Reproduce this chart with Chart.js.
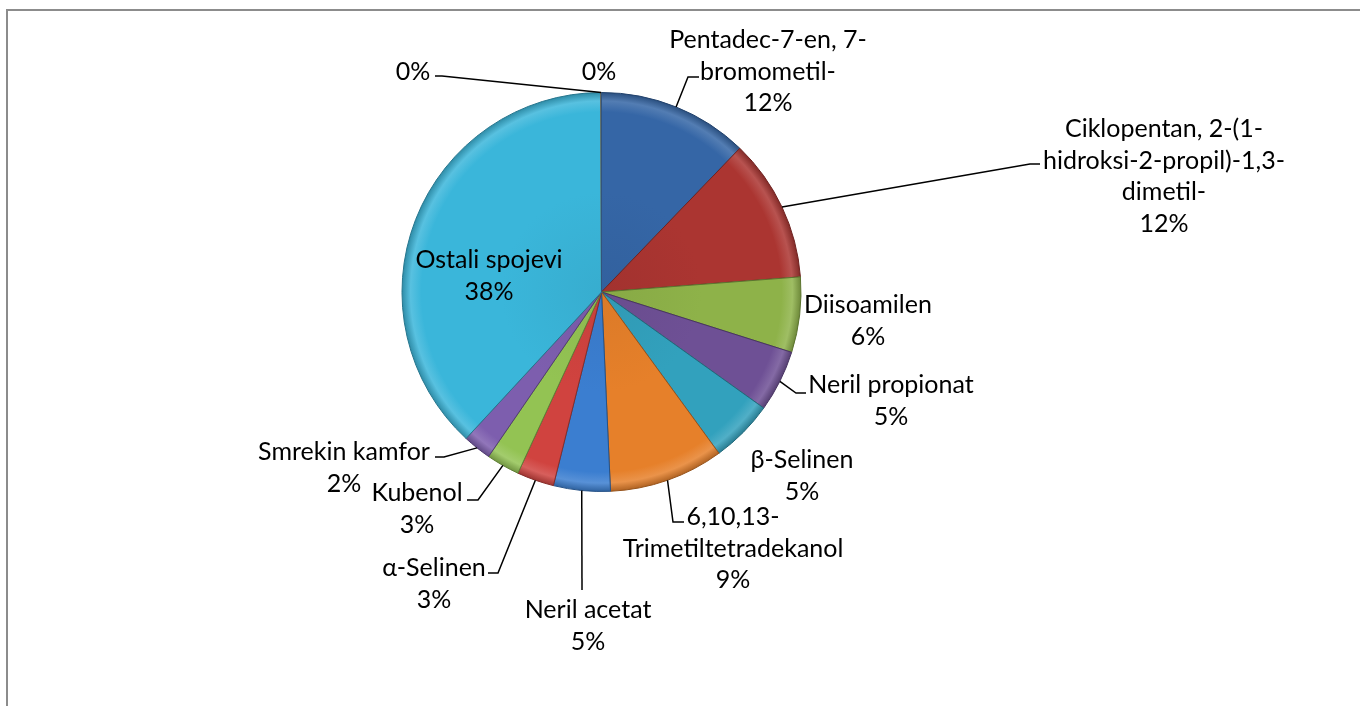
<!DOCTYPE html>
<html>
<head>
<meta charset="utf-8">
<script src="https://cdn.jsdelivr.net/npm/chart.js@4.4.0/dist/chart.umd.min.js"></script>
<style>
html, body { margin: 0; padding: 0; background: #fff; }
#wrap { position: relative; width: 1360px; height: 706px; }
canvas { display: block; }
</style>
</head>
<body>
<div id="wrap"><canvas id="myChart" width="1360" height="706"></canvas></div>
<script>
// Compounds, clockwise from 12 o'clock (last two are the unnamed 0% slices)
const compounds = [
    'Pentadec-7-en, 7-bromometil-',
    'Ciklopentan, 2-(1-hidroksi-2-propil)-1,3-dimetil-',
    'Diisoamilen',
    'Neril propionat',
    'β-Selinen',
    '6,10,13-Trimetiltetradekanol',
    'Neril acetat',
    'α-Selinen',
    'Kubenol',
    'Smrekin kamfor',
    'Ostali spojevi',
    '',
    ''
];

// Share of each compound (%)
const shares = [12.2, 11.6, 6.1, 5.0, 5.1, 9.3, 4.6, 3.0, 2.7, 2.3, 38.1, 0.02, 0.02];

// Slice colours
const sliceColors = [
    '#3566A6', '#AB3531', '#8EB249', '#6E5095', '#32A1BD', '#E6802A',
    '#3B7ED0', '#D0433F', '#93C353', '#7D5EAE', '#3AB6DA', '#F39A45', '#4F81BD'
];

// Where each label sits: centre x, first line y, optional leader elbow [x, y] and tail x
const labelLayout = [
    { x: 768, y: 40, elbow: [688, 77], tail: 699 },
    { x: 1164, y: 129, elbow: [1030, 164], tail: 1040 },
    { x: 868, y: 305 },
    { x: 891, y: 385, elbow: [796, 393], tail: 806 },
    { x: 802, y: 460 },
    { x: 733, y: 517, elbow: [673, 522], tail: 684 },
    { x: 588, y: 610, elbow: [582, 590], tail: 582 },
    { x: 434, y: 568, elbow: [498, 573], tail: 488 },
    { x: 417, y: 493, elbow: [478, 500], tail: 467 },
    { x: 344, y: 452, elbow: [444, 457], tail: 435 },
    { x: 489, y: 260 },
    { x: 413, y: 72, elbow: [442, 76], tail: 435 },
    { x: 599, y: 72 }
];

const FONT = '25px Lato, "Open Sans", sans-serif';
const LINE_H = 31.5;
const WRAP_W = 250;

function shade(hex, amt) {
    let r = parseInt(hex.slice(1, 3), 16);
    let g = parseInt(hex.slice(3, 5), 16);
    let b = parseInt(hex.slice(5, 7), 16);
    if (amt >= 0) {
        r = r + (255 - r) * amt; g = g + (255 - g) * amt; b = b + (255 - b) * amt;
    } else {
        r = r * (1 + amt); g = g * (1 + amt); b = b * (1 + amt);
    }
    return `rgb(${Math.round(r)},${Math.round(g)},${Math.round(b)})`;
}

// greedy wrap, breaking at spaces or after hyphens
function wrapText(ctx, text, maxW) {
    if (!text) return [];
    const pieces = text.match(/[^\s-]*-|[^\s-]+\s?|\s/g);
    const lines = [];
    let cur = '';
    pieces.forEach(p => {
        const test = cur + p;
        if (cur && ctx.measureText(test.trim()).width > maxW) {
            lines.push(cur.trim());
            cur = p;
        } else {
            cur = test;
        }
    });
    if (cur.trim()) lines.push(cur.trim());
    return lines;
}

const total = shares.reduce((a, b) => a + b, 0);

const frame = {
    id: 'frame',
    beforeDraw(chart) {
        const c = chart.ctx;
        c.save();
        c.strokeStyle = '#8c8c8c';
        c.lineWidth = 2;
        c.beginPath();
        c.moveTo(7, 706);
        c.lineTo(7, 10);
        c.lineTo(1360, 10);
        c.stroke();
        c.restore();
    }
};

const pieLabels = {
    id: 'pieLabels',
    afterDatasetsDraw(chart) {
        const c = chart.ctx;
        const arcs = chart.getDatasetMeta(0).data;
        c.save();
        c.font = FONT;
        c.fillStyle = '#000';
        c.textAlign = 'center';
        c.textBaseline = 'middle';
        arcs.forEach((arc, i) => {
            const p = arc.getProps(['x', 'y', 'startAngle', 'endAngle', 'outerRadius'], true);
            const lay = labelLayout[i];
            if (lay.elbow) {
                const mid = (p.startAngle + p.endAngle) / 2;
                const sx = p.x + Math.cos(mid) * p.outerRadius;
                const sy = p.y + Math.sin(mid) * p.outerRadius;
                c.strokeStyle = '#000';
                c.lineWidth = 1.5;
                c.beginPath();
                c.moveTo(sx, sy);
                c.lineTo(lay.elbow[0], lay.elbow[1]);
                c.lineTo(lay.tail, lay.elbow[1]);
                c.stroke();
            }
            const lines = wrapText(c, compounds[i], WRAP_W);
            lines.push(Math.round(shares[i] / total * 100) + '%');
            lines.forEach((ln, k) => c.fillText(ln, lay.x, lay.y + k * LINE_H));
        });
        c.restore();
    }
};

function bevelFill(ctx) {
    const chart = ctx.chart;
    const base = sliceColors[ctx.dataIndex];
    const a = chart.chartArea;
    if (!a) return base;
    const cx = (a.left + a.right) / 2;
    const cy = (a.top + a.bottom) / 2;
    const r = Math.min(a.right - a.left, a.bottom - a.top) / 2;
    const g = chart.ctx.createRadialGradient(cx, cy, 0, cx, cy, r);
    g.addColorStop(0, shade(base, -0.05));
    g.addColorStop(0.5, base);
    g.addColorStop(0.9, base);
    g.addColorStop(0.955, shade(base, 0.15));
    g.addColorStop(1, shade(base, -0.25));
    return g;
}

const ctx = document.getElementById('myChart').getContext('2d');
const myChart = new Chart(ctx, {
    type: 'pie',
    data: {
        labels: compounds,
        datasets: [{
            data: shares,
            backgroundColor: bevelFill,
            borderColor: sliceColors.map(c => shade(c, -0.35)),
            borderWidth: 1
        }]
    },
    options: {
        responsive: false,
        animation: false,
        layout: { padding: { left: 401, right: 558, top: 92, bottom: 214 } },
        plugins: {
            legend: { display: false },
            tooltip: { enabled: false }
        }
    },
    plugins: [frame, pieLabels]
});
</script>
</body>
</html>
